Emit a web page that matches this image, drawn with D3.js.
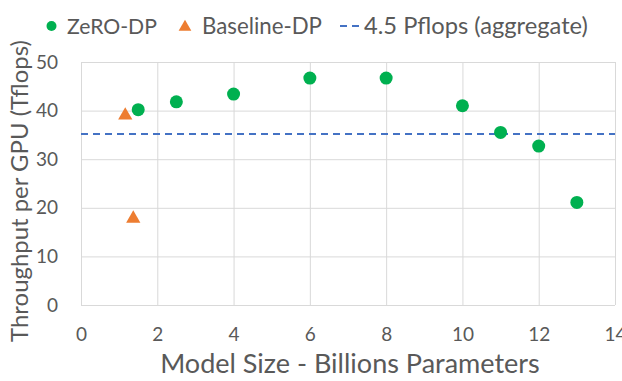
<!DOCTYPE html>
<html>
<head>
<meta charset="utf-8">
<script src="https://cdn.jsdelivr.net/npm/d3@7"></script>
<style>
  body { margin: 0; background: #fff; }
  svg { font-family: Lato, "Liberation Sans", sans-serif; }
</style>
</head>
<body>
<div id="chart"></div>
<script>
// data
const zeroSizes = [1.5, 2.5, 4, 6, 8, 10, 11, 12, 13];
const zeroTflops = [40.2, 41.8, 43.4, 46.7, 46.7, 41.0, 35.5, 32.7, 21.1];
const baseSizes = [1.16, 1.37];
const baseTflops = [39.2, 18.0];
const aggregateTflops = 35.2;
const xTicks = [0, 2, 4, 6, 8, 10, 12, 14];
const yTicks = [0, 10, 20, 30, 40, 50];
const legendLabels = ["ZeRO-DP", "Baseline-DP", "4.5 Pflops (aggregate)"];

const w = 622;
const h = 381;
const margin = { top: 62, right: 7, bottom: 76, left: 81 };
const width = w - margin.left - margin.right;
const height = h - margin.top - margin.bottom;

const textColor = "#595959";
const gridColor = "#d9d9d9";
const green = "#00b050";
const orange = "#ed7d31";
const blue = "#4472c4";

// grow/shrink font so a text spans roughly the given width
function fitText(sel, target, start) {
  sel.attr("font-size", start);
  const len = sel.node().getComputedTextLength();
  sel.attr("font-size", (start * target) / len);
}

const svg = d3
  .select("#chart")
  .append("svg")
  .attr("width", w)
  .attr("height", h);

const g = svg
  .append("g")
  .attr("transform", `translate(${margin.left}, ${margin.top})`);

const x = d3.scaleLinear().domain([0, 14]).range([0, width]);
const y = d3.scaleLinear().domain([0, 50]).range([height, 0]);

// gridlines
g.append("g")
  .selectAll("line")
  .data(yTicks)
  .join("line")
  .attr("x1", 0)
  .attr("x2", width)
  .attr("y1", (d) => y(d) + 0.5)
  .attr("y2", (d) => y(d) + 0.5)
  .attr("stroke", gridColor)
  .attr("stroke-width", 1);

g.append("g")
  .selectAll("line")
  .data(xTicks)
  .join("line")
  .attr("x1", (d) => x(d) + 0.5)
  .attr("x2", (d) => x(d) + 0.5)
  .attr("y1", 0)
  .attr("y2", height)
  .attr("stroke", gridColor)
  .attr("stroke-width", 1);

// axes, tick labels only
const xAxis = d3.axisBottom(x).tickValues(xTicks).tickSize(0).tickPadding(23);
const yAxis = d3.axisLeft(y).tickValues(yTicks).tickSize(0).tickPadding(23);

g.append("g")
  .attr("class", "x-axis")
  .attr("transform", `translate(0, ${height})`)
  .call(xAxis);
g.append("g").attr("class", "y-axis").call(yAxis);

svg.selectAll(".domain").remove();
svg
  .selectAll(".tick text")
  .attr("fill", textColor)
  .attr("font-size", 19)
  .attr("font-family", "Lato, sans-serif");

// aggregate line
g.append("line")
  .attr("x1", 0)
  .attr("x2", width)
  .attr("y1", y(aggregateTflops))
  .attr("y2", y(aggregateTflops))
  .attr("stroke", blue)
  .attr("stroke-width", 2)
  .attr("stroke-dasharray", "7,5");

// baseline triangles
const tri = d3.symbol().type(d3.symbolTriangle).size(88);
g.append("g")
  .selectAll("path")
  .data(baseSizes.map((s, i) => [s, baseTflops[i]]))
  .join("path")
  .attr("d", tri)
  .attr("transform", (d) => `translate(${x(d[0])}, ${y(d[1]) + 1})`)
  .attr("fill", orange);

// zero-dp circles
g.append("g")
  .selectAll("circle")
  .data(zeroSizes.map((s, i) => [s, zeroTflops[i]]))
  .join("circle")
  .attr("cx", (d) => x(d[0]))
  .attr("cy", (d) => y(d[1]))
  .attr("r", 6.5)
  .attr("fill", green);

// axis titles
const xTitle = svg
  .append("text")
  .attr("x", 350)
  .attr("y", 373)
  .attr("text-anchor", "middle")
  .attr("fill", textColor)
  .text("Model Size - Billions Parameters");
fitText(xTitle, 380, 25);

const yTitle = svg
  .append("text")
  .attr("transform", "translate(28, 191) rotate(-90)")
  .attr("text-anchor", "middle")
  .attr("fill", textColor)
  .text("Throughput per GPU (Tflops)");
fitText(yTitle, 302, 23);

// legend
const legend = svg.append("g").attr("transform", "translate(0, 26)");
legend
  .append("circle")
  .attr("cx", 51.5)
  .attr("cy", 0)
  .attr("r", 5)
  .attr("fill", green);
legend
  .append("path")
  .attr("d", d3.symbol().type(d3.symbolTriangle).size(70))
  .attr("transform", "translate(185, 1)")
  .attr("fill", orange);
legend
  .append("line")
  .attr("x1", 340)
  .attr("x2", 359)
  .attr("y1", 0)
  .attr("y2", 0)
  .attr("stroke", blue)
  .attr("stroke-width", 2)
  .attr("stroke-dasharray", "7,5");

const legendX = [67, 202, 364];
const legendW = [90, 120, 224];
legend
  .selectAll("text")
  .data(legendLabels)
  .join("text")
  .attr("x", (d, i) => legendX[i])
  .attr("y", 8)
  .attr("fill", textColor)
  .text((d) => d)
  .each(function (d, i) {
    fitText(d3.select(this), legendW[i], 22);
  });
</script>
</body>
</html>
